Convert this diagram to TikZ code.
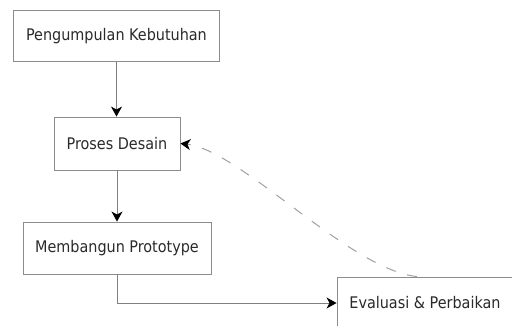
\documentclass[tikz,border=0pt]{standalone}
\usepackage{fontspec}
\setmainfont{DejaVu Sans Condensed}
\usetikzlibrary{arrows.meta}
\definecolor{boxgray}{HTML}{8C8C8C}
\definecolor{linegray}{HTML}{808080}
\definecolor{dashgray}{HTML}{A0A0A0}
\definecolor{textgray}{HTML}{2A2A2A}
\begin{document}
\begin{tikzpicture}[x=1pt,y=-1pt,
  box/.style={draw=boxgray, line width=0.9pt, fill=white, inner sep=0pt,
    font=\fontsize{16}{19}\selectfont, text=textgray},
  flow/.style={draw=linegray, line width=0.9pt,
    -{Stealth[length=10pt,width=11pt,inset=3pt,fill=black,color=black]}},
  back/.style={draw=dashgray, line width=1pt, dash pattern=on 10pt off 12pt,
    -{Stealth[length=10pt,width=11pt,inset=3pt,fill=black,color=black]}}]
\useasboundingbox (0,0) rectangle (512,326);
\fill[white] (0,0) rectangle (512,326);
\node[box, minimum width=206pt, minimum height=51pt] (b1) at (116.5,36) {Pengumpulan Kebutuhan};
\node[box, minimum width=126pt, minimum height=53pt] (b2) at (117,143.5) {Proses Desain};
\node[box, minimum width=188pt, minimum height=52pt] (b3) at (117,248) {Membangun Prototype};
\node[box, minimum width=176pt, minimum height=52pt] (b4) at (425,303) {Evaluasi \& Perbaikan};
\coordinate (s4) at ([xshift=-8pt]b4.north);
\draw[flow] (b1.south) -- (b1.south |- b2.north);
\draw[flow] (b2.south) -- (b2.south |- b3.north);
\draw[flow] (b3.south) |- (b4.west);
\draw[back] (s4) .. controls (350,270) and (240,150) .. (b2.east);
\end{tikzpicture}
\end{document}
